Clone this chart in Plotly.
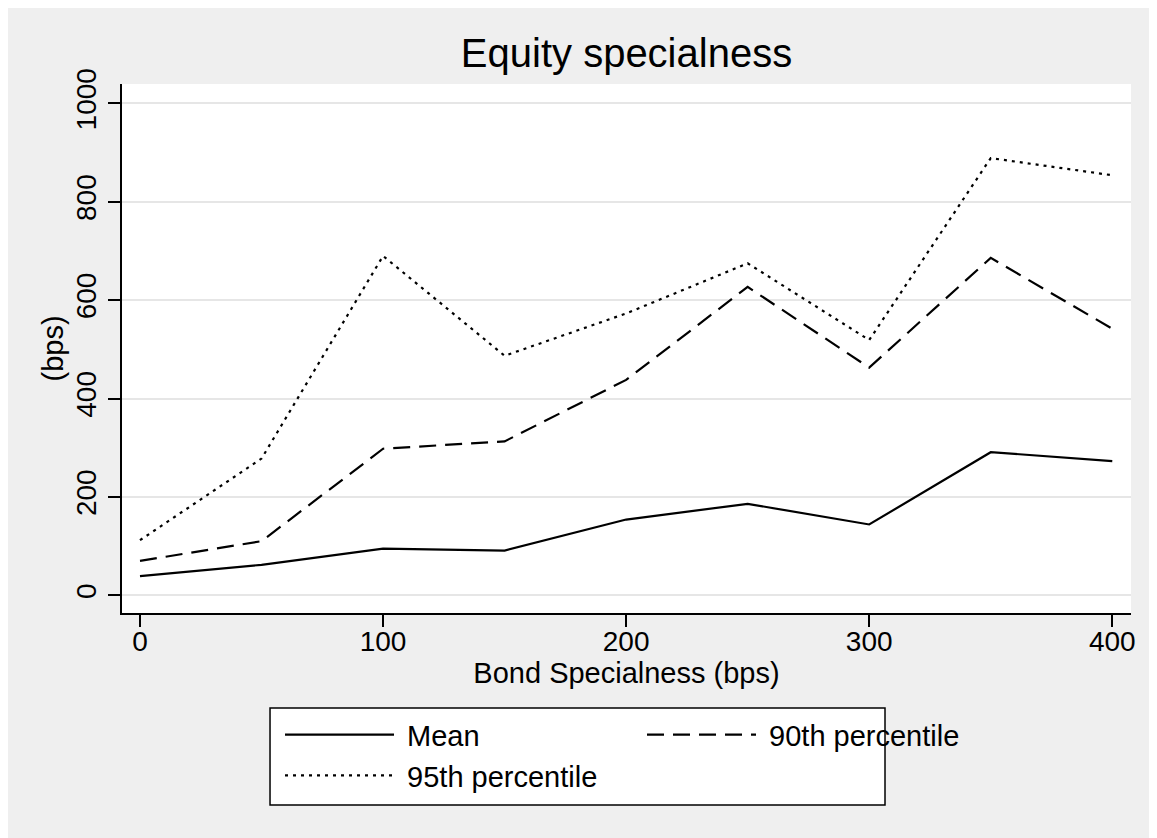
import plotly.graph_objects as go

# Data
bond_bps = [0, 50, 100, 150, 200, 250, 300, 350, 400]
mean_bps = [39, 62, 95, 91, 154, 186, 144, 291, 273]
p90_bps = [70, 110, 298, 313, 438, 627, 463, 686, 542]
p95_bps = [112, 278, 690, 487, 573, 675, 519, 889, 854]

series_names = ["Mean", "90th percentile", "95th percentile"]
x_ticks = [0, 100, 200, 300, 400]
y_ticks = [0, 200, 400, 600, 800, 1000]

FONT = "Liberation Sans, Arial, Helvetica, sans-serif"
BG = "#EFEFEF"
GRID = "#E6E6E6"
NB = "\u00a0"

fig = go.Figure()
fig.add_trace(go.Scatter(x=bond_bps, y=mean_bps, mode="lines", name=NB + series_names[0],
                         line=dict(color="black", width=2.2, dash="solid")))
fig.add_trace(go.Scatter(x=bond_bps, y=p90_bps, mode="lines", name=NB + series_names[1],
                         line=dict(color="black", width=2.2, dash="17px,9px")))
fig.add_trace(go.Scatter(x=bond_bps, y=p95_bps, mode="lines", name=NB + series_names[2],
                         line=dict(color="black", width=2.2, dash="3px,5px")))

fig.update_layout(
    width=1149, height=830,
    margin=dict(l=114, r=26, t=76, b=225),
    paper_bgcolor=BG, plot_bgcolor="white",
    font=dict(family=FONT, color="black", size=28),
    title=dict(text="Equity specialness", x=0.5, xanchor="center", xref="paper",
               y=1 - 45 / 830, yref="container", yanchor="middle",
               font=dict(size=40, family=FONT, color="black")),
    showlegend=True,
    legend=dict(orientation="h", x=0.1566, xanchor="left", y=-0.182, yanchor="top",
                bgcolor="rgba(0,0,0,0)", borderwidth=0,
                font=dict(size=29, family=FONT, color="black"),
                itemwidth=109, entrywidth=238, entrywidthmode="pixels",
                traceorder="normal"),
    shapes=[
        dict(type="rect", xref="paper", yref="paper",
             x0=0.1467, x1=0.7562, y0=-0.3629, y1=-0.1796,
             fillcolor="white", line=dict(color="black", width=1.5), layer="above"),
    ],
    annotations=[
        dict(text="(bps)", xref="paper", yref="paper", x=-0.0684, y=0.5,
             xanchor="center", yanchor="middle", textangle=-90, showarrow=False,
             font=dict(size=29, family=FONT, color="black")),
    ],
)

fig.update_xaxes(
    range=[-7.4, 407.7], tickvals=x_ticks, ticktext=[str(v) for v in x_ticks],
    showgrid=False, zeroline=False,
    showline=True, linecolor="black", linewidth=1.5, mirror=False,
    ticks="outside", ticklen=12, tickwidth=1.5, tickcolor="black",
    ticklabelstandoff=-9,
    tickfont=dict(size=28, family=FONT, color="black"),
    title=dict(text="Bond Specialness (bps)", standoff=4,
               font=dict(size=29, family=FONT, color="black")),
)
fig.update_yaxes(
    range=[-36, 1039.6], tickvals=y_ticks, ticktext=[str(v) for v in y_ticks],
    tickangle=-90,
    showgrid=True, gridcolor=GRID, gridwidth=2, zeroline=False,
    showline=True, linecolor="black", linewidth=1.5, mirror=False,
    ticks="outside", ticklen=12, tickwidth=1.5, tickcolor="black",
    ticklabelstandoff=1,
    tickfont=dict(size=28, family=FONT, color="black"),
)

fig.write_html("out.html")
